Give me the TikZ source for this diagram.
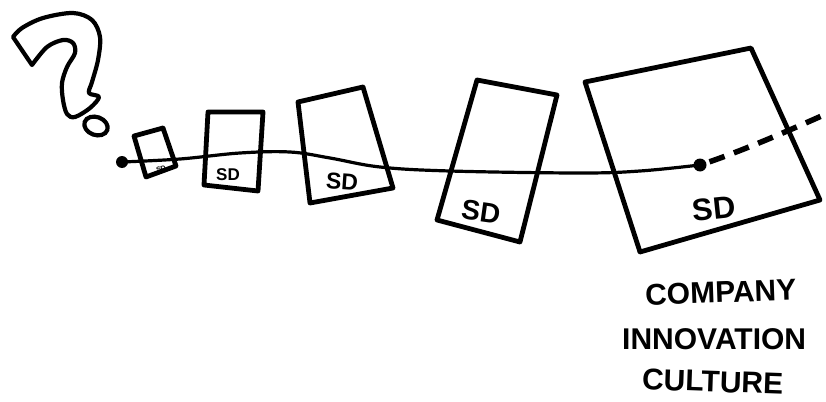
\documentclass[tikz,border=0pt]{standalone}
\usepackage{fontspec}
\setmainfont{Liberation Sans}
\begin{document}
\begin{tikzpicture}[x=1pt,y=-1pt,
  boxline/.style={line width=4.8pt,line join=round,line cap=round},
  trackline/.style={line width=3.2pt,line cap=round},
  dashline/.style={line width=5.5pt,dash pattern=on 16pt off 10pt,dash phase=16pt},
  sdlabel/.style={inner sep=0pt,font=\bfseries},
  caption/.style={inner sep=0pt,font=\bfseries\fontsize{30}{30}\selectfont,anchor=west}]
\useasboundingbox (0,0) rectangle (826,401);
% question mark
\draw[line width=4.2pt,line join=round] (13,37) -- plot[smooth,tension=0.55] coordinates
  {(13,37)(22,28)(43,18)(73,13)(92,20)(100,37)(98,60)(92,82)(89,93)(99,97)(90,108)(75,117)(67,114)(63,100)(62,83)(67,67)(75,53)(73,43)(63,40)(47,47)(32,65)} -- cycle;
\draw[line width=4.2pt] (96,126) ellipse [x radius=12, y radius=9, rotate=-20];
% track
\coordinate (start) at (122,162);
\coordinate (finish) at (700,165);
\coordinate (beyond) at (826,114);
\draw[trackline] plot[smooth,tension=0.6] coordinates
  {(122,162)(180,159)(240,153)(290,152)(330,158)(380,167)(450,171)(580,173)(640,171)(700,165)};
\draw[dashline] (finish) .. controls (740,152) and (790,130) .. (beyond);
\fill (start) circle (6);
\fill (finish) circle (6.5);
% boxes
\draw[boxline] (134,136) -- (163,128) -- (176,166) -- (146,177) -- cycle;
\draw[boxline] (208,112) -- (263,112) -- (258,191) -- (204,185) -- cycle;
\draw[boxline] (298,102) -- (363,87) -- (393,188) -- (310,203) -- cycle;
\draw[boxline] (477,80) -- (557,95) -- (520,242) -- (437,220) -- cycle;
\draw[boxline] (585,82) -- (751,48) -- (820,200) -- (640,252) -- cycle;
% labels
\node[sdlabel,font=\bfseries\fontsize{7}{7}\selectfont,rotate=20] (sd1) at (161,169) {SD};
\node[sdlabel,font=\bfseries\fontsize{17}{17}\selectfont] (sd2) at (228,175) {SD};
\node[sdlabel,font=\bfseries\fontsize{23}{23}\selectfont,rotate=-4] (sd3) at (342,182) {SD};
\node[sdlabel,font=\bfseries\fontsize{28}{28}\selectfont,rotate=-8] (sd4) at (481,212) {SD};
\node[sdlabel,font=\bfseries\fontsize{31}{31}\selectfont,rotate=6] (sd5) at (714,209) {SD};
\node[caption,rotate=2] (c1) at (645,295) {COMPANY};
\node[caption] (c2) at (622,339) {INNOVATION};
\node[caption,rotate=-2] (c3) at (642,379) {CULTURE};
\end{tikzpicture}
\end{document}
